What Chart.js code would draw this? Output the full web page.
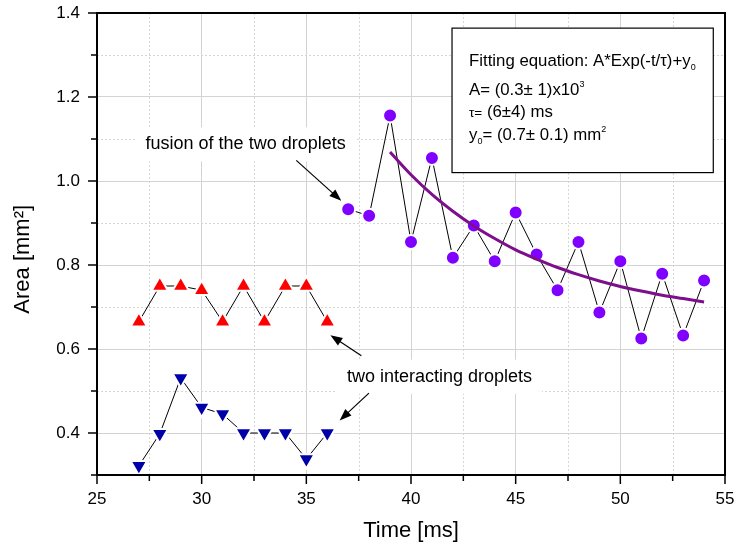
<!DOCTYPE html>
<html>
<head>
<meta charset="utf-8">
<script src="https://cdn.jsdelivr.net/npm/chart.js@4.4.1/dist/chart.umd.min.js"></script>
<style>
  html, body { margin: 0; padding: 0; background: #fff; }
  #wrap { width: 737px; height: 548px; }
</style>
</head>
<body>
<div id="wrap"><canvas id="chart" width="737" height="548"></canvas></div>
<script>
// time [ms] and area [mm^2]
const timesEarly  = [27, 28, 29, 30, 31, 32, 33, 34, 35, 36];
const areaUpper   = [0.665, 0.75, 0.75, 0.74, 0.665, 0.75, 0.665, 0.75, 0.75, 0.665];
const areaLower   = [0.322, 0.398, 0.531, 0.461, 0.445, 0.4, 0.4, 0.4, 0.338, 0.4];
const timesFusion = [37, 38, 39, 40, 41, 42, 43, 44, 45, 46, 47, 48, 49, 50, 51, 52, 53, 54];
const areaFusion  = [0.933, 0.917, 1.156, 0.855, 1.055, 0.817, 0.894, 0.809, 0.925, 0.825, 0.740, 0.855, 0.687, 0.809, 0.625, 0.779, 0.632, 0.763];
const timesFit    = [39, 40, 41, 42, 43, 44, 45, 46, 47, 48, 49, 50, 51, 52, 53, 54];
const areaFit     = [1.069, 1.015, 0.968, 0.928, 0.893, 0.863, 0.836, 0.814, 0.794, 0.777, 0.762, 0.749, 0.738, 0.728, 0.720, 0.712];

const xMin = 25, xMax = 55, xStep = 2.5;
const yMin = 0.3, yMax = 1.4, yStep = 0.1;

// annotations, placed in data units
const fusionNote = { text: 'fusion of the two droplets', t: 27.32, v: 1.087 };
const pairNote   = { text: 'two interacting droplets', t: 36.94, v: 0.534 };
const arrows = [
  [34.52, 1.049, 36.67, 0.953],
  [37.63, 0.584, 36.15, 0.633],
  [37.99, 0.495, 36.59, 0.430]
];
const fitBox = { t1: 41.96, v1: 1.364, t2: 54.44, v2: 1.02 };

const FONT = '"Liberation Sans", Arial, sans-serif';
const pts = (xs, ys) => xs.map((x, i) => ({ x, y: ys[i] }));

function drawRuns(ctx, x, y, runs) {
  runs.forEach(r => {
    const size = r.size || 16.8;
    ctx.font = `${size}px ${FONT}`;
    ctx.fillText(r.s, x, y + (r.dy || 0));
    x += ctx.measureText(r.s).width;
  });
}

function arrow(ctx, x1, y1, x2, y2) {
  const a = Math.atan2(y2 - y1, x2 - x1), len = 12, hw = 4.5;
  ctx.beginPath();
  ctx.moveTo(x1, y1);
  ctx.lineTo(x2 - Math.cos(a) * len * 0.8, y2 - Math.sin(a) * len * 0.8);
  ctx.stroke();
  ctx.beginPath();
  ctx.moveTo(x2, y2);
  ctx.lineTo(x2 - Math.cos(a) * len - Math.sin(a) * hw, y2 - Math.sin(a) * len + Math.cos(a) * hw);
  ctx.lineTo(x2 - Math.cos(a) * len + Math.sin(a) * hw, y2 - Math.sin(a) * len - Math.cos(a) * hw);
  ctx.closePath();
  ctx.fill();
}

const decor = {
  id: 'decor',
  beforeDatasetsDraw(chart) {
    const { ctx, chartArea: a, scales: { x, y } } = chart;
    ctx.save();
    // minor dashed grid
    ctx.strokeStyle = '#d6d6d6';
    ctx.lineWidth = 1;
    ctx.setLineDash([2, 2]);
    x.ticks.forEach(t => {
      if (Math.abs(t.value % 5) < 1e-6) return;
      const px = Math.round(x.getPixelForValue(t.value)) + 0.5;
      ctx.beginPath(); ctx.moveTo(px, a.top); ctx.lineTo(px, a.bottom); ctx.stroke();
    });
    y.ticks.forEach(t => {
      if (Math.round(t.value * 10) % 2 === 0) return;
      const py = Math.round(y.getPixelForValue(t.value)) + 0.5;
      ctx.beginPath(); ctx.moveTo(a.left, py); ctx.lineTo(a.right, py); ctx.stroke();
    });
    ctx.setLineDash([]);
    // white backing behind the two labels
    ctx.fillStyle = '#fff';
    ctx.font = `18px ${FONT}`;
    [fusionNote, pairNote].forEach(n => {
      const px = x.getPixelForValue(n.t), py = y.getPixelForValue(n.v);
      const w = ctx.measureText(n.text).width;
      ctx.fillRect(px - 10, py - 17, w + 20, 34);
    });
    ctx.restore();
  },
  afterDraw(chart) {
    const { ctx, chartArea: a, scales: { x, y } } = chart;
    ctx.save();
    // frame
    ctx.strokeStyle = '#000';
    ctx.lineWidth = 2;
    ctx.strokeRect(a.left, a.top, a.right - a.left, a.bottom - a.top);
    // outward ticks
    ctx.lineWidth = 1.5;
    x.ticks.forEach(t => {
      const px = x.getPixelForValue(t.value);
      const len = Math.abs(t.value % 5) < 1e-6 ? 9 : 6;
      ctx.beginPath(); ctx.moveTo(px, a.bottom); ctx.lineTo(px, a.bottom + len); ctx.stroke();
    });
    y.ticks.forEach(t => {
      const py = y.getPixelForValue(t.value);
      const len = Math.round(t.value * 10) % 2 === 0 ? 9 : 6;
      ctx.beginPath(); ctx.moveTo(a.left, py); ctx.lineTo(a.left - len, py); ctx.stroke();
    });
    // fit parameter box
    const bx = x.getPixelForValue(fitBox.t1), by = y.getPixelForValue(fitBox.v1);
    const bw = x.getPixelForValue(fitBox.t2) - bx, bh = y.getPixelForValue(fitBox.v2) - by;
    ctx.fillStyle = '#fff';
    ctx.fillRect(bx, by, bw, bh);
    ctx.lineWidth = 1.2;
    ctx.strokeRect(bx, by, bw, bh);
    ctx.fillStyle = '#000';
    ctx.textBaseline = 'alphabetic';
    const tx = bx + 17;
    drawRuns(ctx, tx, by + 38, [{ s: 'Fitting equation: A*Exp(-t/τ)+y' }, { s: '0', size: 9, dy: 4 }]);
    drawRuns(ctx, tx, by + 67, [{ s: 'A= (0.3± 1)x10' }, { s: '3', size: 9, dy: -8 }]);
    drawRuns(ctx, tx, by + 89, [{ s: 'τ=', size: 13.5 }, { s: ' (6±4) ms' }]);
    drawRuns(ctx, tx, by + 112, [{ s: 'y' }, { s: '0', size: 9, dy: 4 }, { s: '= (0.7± 0.1) mm' }, { s: '2', size: 9, dy: -8 }]);
    // labels and arrows
    ctx.font = `18px ${FONT}`;
    ctx.textBaseline = 'middle';
    [fusionNote, pairNote].forEach(n => ctx.fillText(n.text, x.getPixelForValue(n.t), y.getPixelForValue(n.v)));
    ctx.lineWidth = 1.2;
    arrows.forEach(([t1, v1, t2, v2]) => arrow(ctx, x.getPixelForValue(t1), y.getPixelForValue(v1), x.getPixelForValue(t2), y.getPixelForValue(v2)));
    ctx.restore();
  }
};

const connect = { showLine: true, borderColor: '#000', borderWidth: 1, pointBorderColor: '#fff', pointBorderWidth: 2 };

new Chart(document.getElementById('chart'), {
  type: 'scatter',
  data: {
    datasets: [
      { label: 'fit', data: pts(timesFit, areaFit), showLine: true, borderColor: '#7d0f8c', borderWidth: 3, pointRadius: 0, cubicInterpolationMode: 'monotone' },
      { ...connect, label: 'fusion', data: pts(timesFusion, areaFusion), pointStyle: 'circle', pointRadius: 7, pointBackgroundColor: '#8000ff' },
      { ...connect, label: 'upper droplet', data: pts(timesEarly, areaUpper), pointStyle: 'triangle', pointRadius: 9.5, pointBackgroundColor: '#ff0000' },
      { ...connect, label: 'lower droplet', data: pts(timesEarly, areaLower), pointStyle: 'triangle', pointRotation: 180, pointRadius: 9.5, pointBackgroundColor: '#0000a8' }
    ]
  },
  options: {
    responsive: false,
    animation: false,
    layout: { padding: { top: 13, right: 12, left: 0, bottom: 0 } },
    plugins: { legend: { display: false }, tooltip: { enabled: false } },
    scales: {
      x: {
        type: 'linear', min: xMin, max: xMax,
        afterFit: s => { s.height = 73; s.paddingLeft = 0; s.paddingRight = 0; },
        ticks: {
          stepSize: xStep, autoSkip: false, padding: 14, color: '#000',
          font: { family: FONT, size: 17 },
          callback: v => (Math.abs(v % 5) < 1e-6 ? String(v) : '')
        },
        grid: { drawTicks: false, color: c => (Math.abs(c.tick.value % 5) < 1e-6 ? '#d3d3d3' : 'rgba(0,0,0,0)') },
        border: { display: false },
        title: { display: true, text: 'Time [ms]', color: '#000', font: { family: FONT, size: 22 }, padding: { top: 0, bottom: 4 } }
      },
      y: {
        type: 'linear', min: yMin, max: yMax,
        afterFit: s => { s.width = 97; s.paddingTop = 0; s.paddingBottom = 0; },
        ticks: {
          stepSize: yStep, autoSkip: false, padding: 17, color: '#000',
          font: { family: FONT, size: 17 },
          callback: v => { const k = Math.round(v * 10); return k % 2 === 0 ? (k / 10).toFixed(1) : ''; }
        },
        grid: { drawTicks: false, color: c => (Math.round(c.tick.value * 10) % 2 === 0 ? '#d3d3d3' : 'rgba(0,0,0,0)') },
        border: { display: false },
        title: { display: true, text: 'Area [mm²]     ', color: '#000', font: { family: FONT, size: 22 }, padding: { top: 10, bottom: 0 } }
      }
    }
  },
  plugins: [decor]
});
</script>
</body>
</html>
